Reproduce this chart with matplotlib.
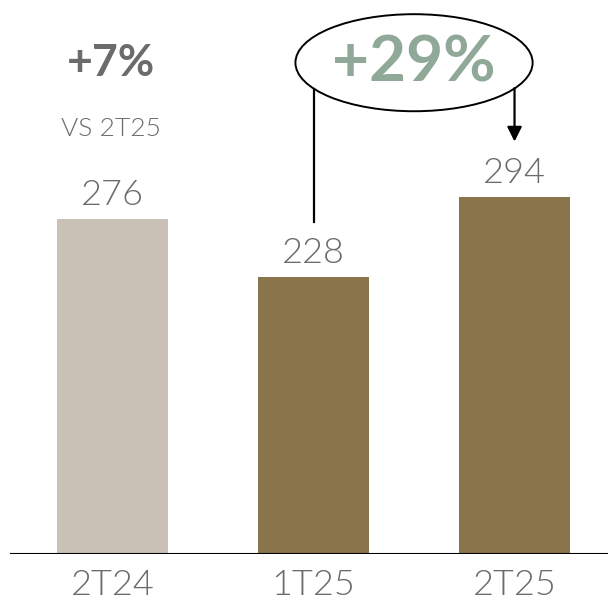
import matplotlib.pyplot as plt
from matplotlib.patches import Ellipse

categories = ["2T24", "1T25", "2T25"]
values = [276, 228, 294]
colors = ["#c9c1b5", "#89744b", "#89744b"]
growth_yoy = "+7%"
growth_yoy_note = "VS 2T25"
growth_qoq = "+29%"

plt.rcParams['font.family'] = ['Lato', 'DejaVu Sans']
gray = "#6b6b6b"

fig = plt.figure(figsize=(6.08, 6.03), dpi=100)
ax = fig.add_axes([10 / 608, 49 / 603, 598 / 608, 554 / 603])

x = list(range(len(categories)))
ax.bar(x, values, width=0.552, color=colors)
ax.set_xlim(-0.51, 2.465)
ax.set_ylim(0, 456.7)

for xi, v in zip(x, values):
    ax.text(xi, v + 7, str(v), ha="center", va="bottom", fontsize=26,
            color=gray, fontweight=300)

for xi, c in zip(x, categories):
    ax.text(xi, -12, c, ha="center", va="top", fontsize=26, color=gray,
            fontweight=300)

# baseline
ax.axhline(0, color="black", lw=1.5)
for s in ax.spines.values():
    s.set_visible(False)
ax.set_xticks([])
ax.set_yticks([])

# +7% vs 2T25
ax.text(-0.01, 405, growth_yoy, ha="center", va="center", fontsize=32,
        fontweight="bold", color=gray)
ax.text(-0.01, 350, growth_yoy_note, ha="center", va="center", fontsize=19,
        color=gray, fontweight=300)

# +29% ellipse with connectors
ax.add_patch(Ellipse((1.5, 405), 1.18, 80, fill=False, ec="black", lw=1.4))
ax.text(1.5, 405, growth_qoq, ha="center", va="center", fontsize=46,
        fontweight="bold", color="#8fa898")
ax.plot([1, 1], [values[1] + 46, 383], color="black", lw=1.6)
ax.annotate("", xy=(2, values[2] + 46), xytext=(2, 384),
            arrowprops=dict(arrowstyle="-|>", color="black", lw=1.6,
                            mutation_scale=22, shrinkA=0, shrinkB=0))

fig.savefig("out.png", dpi=100)
